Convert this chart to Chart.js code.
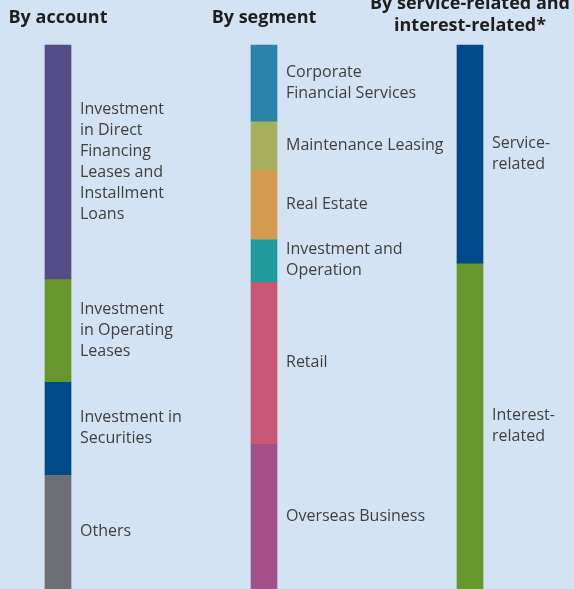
<!DOCTYPE html>
<html>
<head>
<meta charset="utf-8">
<script src="https://cdn.jsdelivr.net/npm/chart.js@4"></script>
<style>
html,body{margin:0;padding:0;background:#d4e3f3;}
canvas{display:block;}
</style>
</head>
<body>
<canvas id="c" width="574" height="589"></canvas>
<script>
// ---- data ----
const categories = ['By account', 'By segment', 'By service-related and interest-related*'];
const titleLines = [['By account'], ['By segment'], ['By service-related and', 'interest-related*']];

const accountLabels = [
  ['Investment', 'in Direct', 'Financing', 'Leases and', 'Installment', 'Loans'],
  ['Investment', 'in Operating', 'Leases'],
  ['Investment in', 'Securities'],
  ['Others']
];
const accountValues = [43.0, 18.9, 17.1, 21.0];
const accountColors = ['#524c89', '#67962d', '#004b87', '#6c6e72'];

const segmentLabels = [
  ['Corporate', 'Financial Services'],
  ['Maintenance Leasing'],
  ['Real Estate'],
  ['Investment and', 'Operation'],
  ['Retail'],
  ['Overseas Business']
];
const segmentValues = [14.0, 8.9, 12.8, 7.8, 29.8, 26.7];
const segmentColors = ['#2a82a9', '#a6b05c', '#d49b50', '#1f9b9b', '#c95673', '#a15187'];

const serviceLabels = [
  ['Service-', 'related'],
  ['Interest-', 'related']
];
const serviceValues = [40.1, 59.9];
const serviceColors = ['#004b87', '#67962d'];

// ---- build datasets ----
const groups = [
  {labels: accountLabels, values: accountValues, colors: accountColors},
  {labels: segmentLabels, values: segmentValues, colors: segmentColors},
  {labels: serviceLabels, values: serviceValues, colors: serviceColors}
];
const datasets = [];
groups.forEach((g, gi) => {
  g.values.forEach((v, i) => {
    const data = categories.map((_, ci) => ci === gi ? v : null);
    datasets.push({
      label: g.labels[i].join(' '),
      segLines: g.labels[i],
      data: data,
      backgroundColor: g.colors[i],
      borderWidth: 0,
      barThickness: 26,
      stack: 's',
      clip: false
    });
  });
});

const LABEL_FONT = '16px "Open Sans"';
const TITLE_FONT = 'bold 18px "Open Sans"';

const bgPlugin = {
  id: 'bg',
  beforeDraw(chart) {
    const c = chart.ctx;
    c.save();
    c.fillStyle = '#d4e3f3';
    c.fillRect(0, 0, chart.width, chart.height);
    c.restore();
  }
};

const textPlugin = {
  id: 'texts',
  afterDatasetsDraw(chart) {
    const c = chart.ctx;
    c.save();
    // segment labels
    c.font = LABEL_FONT;
    c.fillStyle = '#404040';
    c.textAlign = 'left';
    c.textBaseline = 'middle';
    const lh = 21;
    chart.data.datasets.forEach((ds, di) => {
      const meta = chart.getDatasetMeta(di);
      meta.data.forEach((el, idx) => {
        if (ds.data[idx] == null) return;
        const p = el.getProps(['x', 'y', 'base', 'width'], true);
        const cy = (p.y + p.base) / 2;
        const x = p.x + p.width / 2 + 9;
        const n = ds.segLines.length;
        ds.segLines.forEach((t, k) => {
          c.fillText(t, x, cy + (k - (n - 1) / 2) * lh);
        });
      });
    });
    // titles
    c.font = TITLE_FONT;
    c.fillStyle = '#1e1e1e';
    c.textAlign = 'center';
    const xs = chart.scales.x;
    titleLines.forEach((lines, i) => {
      const x = xs.getPixelForValue(i);
      const n = lines.length;
      lines.forEach((t, k) => {
        const y = n === 1 ? 18 : 26 - (n - 1 - k) * 22;
        c.fillText(t, x, y);
      });
    });
    c.restore();
  }
};

new Chart(document.getElementById('c'), {
  type: 'bar',
  data: {labels: categories, datasets: datasets},
  options: {
    responsive: false,
    animation: false,
    layout: {padding: {left: 58, right: 104, top: 45, bottom: 0}},
    plugins: {legend: {display: false}, tooltip: {enabled: false}, title: {display: false}},
    scales: {
      x: {display: false, offset: false, stacked: true},
      y: {display: false, stacked: true, reverse: true, min: 0, max: 100}
    }
  },
  plugins: [bgPlugin, textPlugin]
});
</script>
</body>
</html>
